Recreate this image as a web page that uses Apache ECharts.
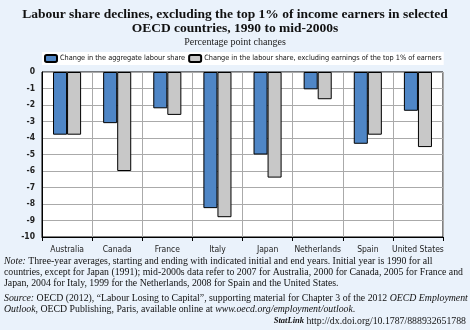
<!DOCTYPE html>
<html><head><meta charset="utf-8">
<script src="https://cdn.jsdelivr.net/npm/echarts@6/dist/echarts.min.js"></script>
<style>html,body{margin:0;padding:0;background:#eaf2fb;}#c{width:470px;height:330px;}</style>
</head><body><div id="c"></div>
<script>
const categories = ['Australia','Canada','France','Italy','Japan','Netherlands','Spain','United States'];
const aggregateShare = [-3.8,-3.1,-2.2,-8.25,-5.0,-1.05,-4.35,-2.35];
const excludingTop1 = [-3.8,-6.0,-2.6,-8.8,-6.4,-1.65,-3.8,-4.55];
const seriesNames = ['Change in the aggregate labour share','Change in the labour share, excluding earnings of the top 1% of earners'];
const yTicks = [0,-1,-2,-3,-4,-5,-6,-7,-8,-9,-10];

const serif = '"Liberation Serif", "DejaVu Serif", serif';
const narrow = '"DejaVu Sans Condensed", "Liberation Sans Narrow", "Liberation Sans", sans-serif';

const chart = echarts.init(document.getElementById('c'), null, {renderer:'canvas'});
chart.setOption({
  backgroundColor:'#eaf2fb',
  animation:false,
  title:[
    {text:'Labour share declines, excluding the top 1% of income earners in selected\nOECD countries, 1990 to mid-2000s', left:'center', top:3,
     textStyle:{fontFamily:serif, fontSize:13.5, fontWeight:'bold', color:'#111', lineHeight:14}},
    {text:'Percentage point changes', left:'center', top:32, textStyle:{fontFamily:serif, fontSize:10, fontWeight:'normal', color:'#222'}}
  ],
  legend:{
    top:52, left:42, width:420, orient:'horizontal', itemWidth:12, itemHeight:7, itemGap:3, padding:[2,2],
    backgroundColor:'#fff',
    textStyle:{fontFamily:narrow, fontSize:7.3, color:'#111', padding:[0,0,0,-2]},
    data:seriesNames
  },
  grid:{left:42, right:27, top:72, bottom:93, show:true, backgroundColor:'#fff', borderColor:'#000', borderWidth:1},
  xAxis:{
    type:'category', data:categories, position:'bottom',
    axisLine:{show:true, onZero:false, lineStyle:{color:'#000', width:1}},
    axisTick:{show:true, length:4, interval:0, lineStyle:{color:'#000'}},
    axisLabel:{fontFamily:narrow, fontSize:8.5, color:'#222', margin:8, interval:0},
    splitLine:{show:true, interval:0, lineStyle:{color:'#aaa', width:1}}
  },
  yAxis:{
    type:'value', min:-10, max:0, interval:1,
    axisLine:{show:true, lineStyle:{color:'#000'}},
    axisTick:{show:false},
    axisLabel:{fontFamily:narrow, fontSize:8.5, fontWeight:'bold', color:'#222', margin:7},
    splitLine:{show:true, lineStyle:{color:'#aaa', width:1}}
  },
  series:[
    {name:seriesNames[0], type:'bar', data:aggregateShare, barGap:'0%', barCategoryGap:'44%',
     itemStyle:{color:'#4f86c6', borderColor:'#000', borderWidth:1}},
    {name:seriesNames[1], type:'bar', data:excludingTop1,
     itemStyle:{color:'#c8c8c8', borderColor:'#000', borderWidth:1}}
  ],
  graphic:[
    {type:'text', left:4, top:256, style:{fontFamily:serif, fontSize:9.8, fill:'#111', lineHeight:11,
      text:'{i|Note:} Three-year averages, starting and ending with indicated initial and end years. Initial year is 1990 for all\ncountries, except for Japan (1991); mid-2000s data refer to 2007 for Australia, 2000 for Canada, 2005 for France and\nJapan, 2004 for Italy, 1999 for the Netherlands, 2008 for Spain and the United States.',
      rich:{i:{fontStyle:'italic', fontFamily:serif, fontSize:9.8}}}},
    {type:'text', left:4, top:293, style:{fontFamily:serif, fontSize:9.8, fill:'#111', lineHeight:11,
      text:'{i|Source:} OECD (2012), \u201cLabour Losing to Capital\u201d, supporting material for Chapter 3 of the 2012 {i|OECD Employment}\n{i|Outlook}, OECD Publishing, Paris, available online at {i|www.oecd.org/employment/outlook}.',
      rich:{i:{fontStyle:'italic', fontFamily:serif, fontSize:9.8}}}},
    {type:'text', right:4, top:316, style:{fontFamily:serif, fontSize:9.8, fill:'#111', align:'right',
      text:'{s|StatLink} http://dx.doi.org/10.1787/888932651788',
      rich:{s:{fontStyle:'italic', fontWeight:'bold', fontFamily:serif, fontSize:8.5}}}}
  ]
});
</script></body></html>
